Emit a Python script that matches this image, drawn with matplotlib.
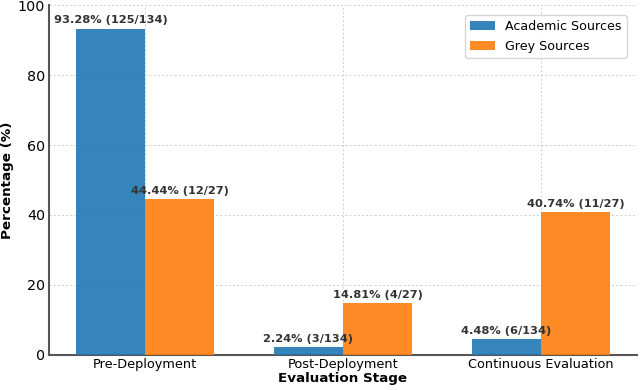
import matplotlib.pyplot as plt
import numpy as np

stages = ["Pre-Deployment", "Post-Deployment", "Continuous Evaluation"]
academic = [93.28, 2.24, 4.48]
grey = [44.44, 14.81, 40.74]
academic_labels = ["93.28% (125/134)", "2.24% (3/134)", "4.48% (6/134)"]
grey_labels = ["44.44% (12/27)", "14.81% (4/27)", "40.74% (11/27)"]

fig, ax = plt.subplots(figsize=(6.4, 3.9), dpi=100)
x = np.arange(len(stages))
w = 0.35

b1 = ax.bar(x - w / 2, academic, w, color="#1f77b4", alpha=0.9, label="Academic Sources", zorder=3)
b2 = ax.bar(x + w / 2, grey, w, color="#ff7f0e", alpha=0.9, label="Grey Sources", zorder=3)

for bars, labels in [(b1, academic_labels), (b2, grey_labels)]:
    for bar, lab in zip(bars, labels):
        ax.text(bar.get_x() + bar.get_width() / 2, bar.get_height() + 1, lab,
                ha="center", va="bottom", fontsize=8.2, fontweight="bold", color="#333333", zorder=4)

ax.set_ylim(0, 100)
ax.set_xticks(x)
ax.set_xticklabels(stages, fontsize=9.3)
ax.tick_params(axis="y", labelsize=10.3, pad=3)
ax.tick_params(axis="x", pad=2)
ax.tick_params(length=0)
ax.set_xlabel("Evaluation Stage", fontsize=9.7, fontweight="bold", labelpad=1)
ax.set_ylabel("Percentage (%)", fontsize=9.7, fontweight="bold", labelpad=3)
ax.grid(True, linestyle=(0, (2.5, 2.5)), color="#c8c8c8", linewidth=0.6, zorder=0)
for s in ["top", "right"]:
    ax.spines[s].set_visible(False)
for s in ["left", "bottom"]:
    ax.spines[s].set_color("#555555")
    ax.spines[s].set_linewidth(1.5)
ax.legend(loc="upper right", fontsize=9.1, edgecolor="#cccccc", borderaxespad=0.8)

plt.subplots_adjust(left=0.077, right=0.995, top=0.987, bottom=0.09)
plt.savefig("out.png")
